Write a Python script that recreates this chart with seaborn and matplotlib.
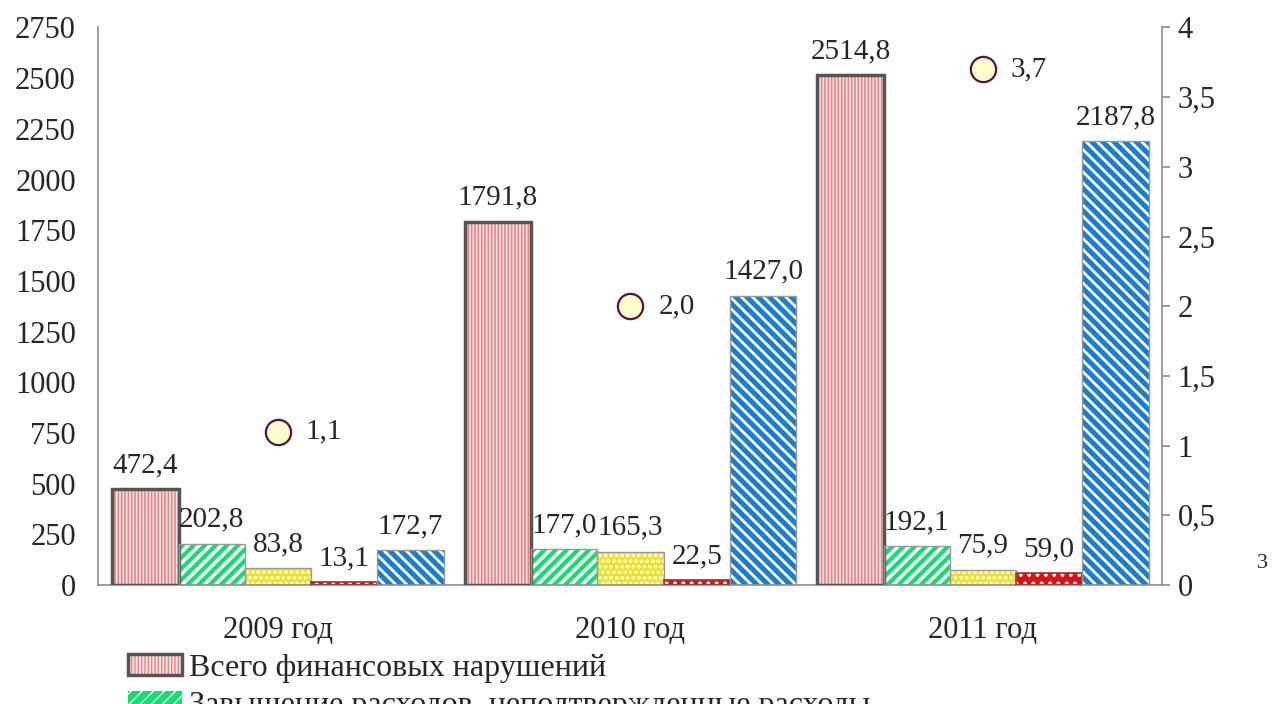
import matplotlib
matplotlib.use("Agg")
import matplotlib.pyplot as plt
import seaborn as sns
import pandas as pd
from matplotlib.patches import Patch, Rectangle
from matplotlib.legend_handler import HandlerTuple

years = ["2009 год", "2010 год", "2011 год"]
series_names = [
    "Всего финансовых нарушений",
    "Завышение расходов, неподтвержденные расходы",
    "Нецелевое использование средств",
    "Неэффективное использование средств",
    "Прочие нарушения",
]
total = [472.4, 1791.8, 2514.8]
overstated = [202.8, 177.0, 192.1]
misuse = [83.8, 165.3, 75.9]
inefficient = [13.1, 22.5, 59.0]
other = [172.7, 1427.0, 2187.8]
share = [1.1, 2.0, 3.7]

values = [total, overstated, misuse, inefficient, other]

sns.set_style("white")
plt.rcParams["font.family"] = ["Liberation Serif", "DejaVu Serif"]
plt.rcParams["font.size"] = 22

rows = []
for name, vals in zip(series_names, values):
    for y, v in zip(years, vals):
        rows.append({"year": y, "series": name, "value": v})
df = pd.DataFrame(rows)

faces = ["#fde8e8", "#10e070", "#f0e010", "#e01010", "#1a7ed0"]
hatch_cols = ["#f08080", "white", "white", "white", "white"]
hatches = ["|||||", "///", "...", "..", "\\\\\\"]
hatch_lw = [1.2, 2.6, 2.0, 1.5, 2.0]
outlines = ["#555555", "#999999", "#999999", "#a03030", "#999999"]
outline_w = [2.5, 1.0, 1.0, 1.2, 1.0]

fig = plt.figure(figsize=(12.73, 7.04), dpi=100)
ax = fig.add_axes([0.077, 0.169, 0.836, 0.792])

sns.barplot(data=df, x="year", y="value", hue="series", hue_order=series_names,
            order=years, palette=faces, width=0.94, gap=0, legend=False, ax=ax,
            saturation=1)

for i, cont in enumerate(ax.containers):
    for bar in cont:
        bar.set_facecolor(faces[i])
        bar.set_edgecolor(hatch_cols[i])
        bar.set_hatch(hatches[i])
        bar.set_linewidth(0)
        try:
            bar.set_hatch_linewidth(hatch_lw[i])
        except AttributeError:
            pass
        x0, y0 = bar.get_xy()
        ax.add_patch(Rectangle((x0, y0), bar.get_width(), bar.get_height(),
                               fill=False, edgecolor=outlines[i],
                               linewidth=outline_w[i], zorder=3))
    labels = [f"{v:.1f}".replace(".", ",") for v in values[i]]
    ax.bar_label(cont, labels=labels, padding=8, fontsize=21)

ax.set_ylim(0, 2750)
ax.set_yticks(range(0, 2751, 250))
ax.set_xlim(-0.511, 2.509)
ax.set_xlabel("")
ax.set_ylabel("")
ax.tick_params(axis="y", length=0, pad=16, labelsize=22)
ax.tick_params(axis="x", length=0, pad=22, labelsize=22)
for s in ["top", "right"]:
    ax.spines[s].set_visible(False)
for s in ["left", "bottom"]:
    ax.spines[s].set_color("#8c8c8c")
    ax.spines[s].set_linewidth(1.2)

ax2 = ax.twinx()
pts = pd.DataFrame({"year": years, "share": share})
sns.scatterplot(data=pts, x="year", y="share", ax=ax2, s=330, color="#ffffcc",
                edgecolor="#5a1040", linewidth=1.6, zorder=5)
for y, v in zip(years, share):
    ax2.annotate(f"{v:.1f}".replace(".", ","), (y, v), xytext=(20, 0),
                 textcoords="offset points", ha="left", va="center", fontsize=21)
ax2.set_ylim(0, 4)
ax2.set_yticks([0, 0.5, 1, 1.5, 2, 2.5, 3, 3.5, 4])
ax2.set_yticklabels(["0", "0,5", "1", "1,5", "2", "2,5", "3", "3,5", "4"])
ax2.set_ylabel("")
ax2.set_xlabel("")
ax2.set_xlim(-0.511, 2.509)
ax2.tick_params(axis="y", length=6, width=1.2, color="#8c8c8c", pad=5, labelsize=22)
for s in ["top", "left", "bottom"]:
    ax2.spines[s].set_visible(False)
ax2.spines["right"].set_color("#8c8c8c")
ax2.spines["right"].set_linewidth(1.2)

handles = []
for i in range(len(series_names)):
    fill = Patch(facecolor=faces[i], edgecolor=hatch_cols[i], hatch=hatches[i],
                 linewidth=0)
    edge = Patch(facecolor="none", edgecolor=outlines[i] if i == 0 else "none",
                 linewidth=outline_w[i])
    handles.append((fill, edge))
# the reference is cropped: only the first legend row and the top of the second show
leg = fig.legend(handles[:2], series_names[:2], loc="upper left",
                 bbox_to_anchor=(128 / 1273, 1 - 654 / 704), frameon=False,
                 handler_map={tuple: HandlerTuple(ndivide=1, pad=0)},
                 handlelength=1.7, handleheight=0.65, handletextpad=0.2,
                 labelspacing=0.25, borderaxespad=0, borderpad=0, fontsize=23)

fig.text(1262 / 1273, 1 - 563 / 704, "3", fontsize=16, ha="center", va="center")

fig.savefig("out.png", dpi=100)
